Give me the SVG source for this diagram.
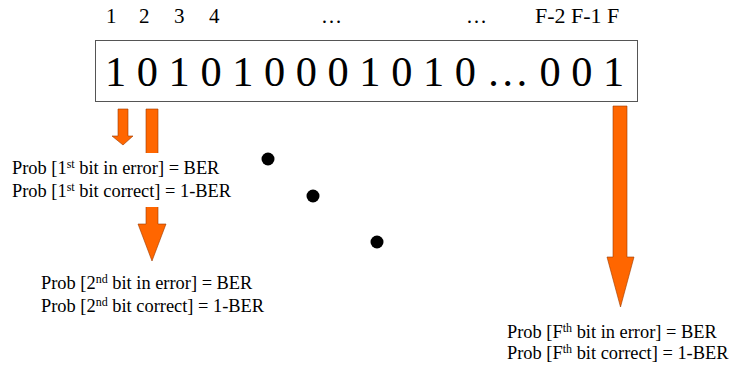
<svg xmlns="http://www.w3.org/2000/svg" width="733" height="366" viewBox="0 0 733 366">
<style>
.idx{font-size:21px}
.big{font-size:42.4px}
.p{font-size:18.4px}
.sup{font-size:12px}
.arr{fill:#FF6600;stroke:#9A3A00;stroke-width:0.6}
.dot{fill:#000}
</style>
<rect width="733" height="366" fill="#fff"/>
<g font-family="Liberation Serif, Times New Roman, serif" fill="#000">
<g id="indices">
<text class="idx" x="106" y="23">1</text>
<text class="idx" x="139" y="23">2</text>
<text class="idx" x="174" y="23">3</text>
<text class="idx" x="209" y="23">4</text>
<text class="idx" x="321" y="23">…</text>
<text class="idx" x="466" y="23">…</text>
<text x="535" y="23" font-size="22">F-2 F-1 F</text>
</g>
<g id="bits">
<rect x="95.5" y="40.5" width="542" height="61" fill="#fff" stroke="#555" stroke-width="1"/>
<text class="big" x="105" y="86">1 0 1 0 1 0 0 0 1 0 1 0 … 0 0 1</text>
</g>
<g id="connectors">
<polygon class="arr" points="118,109 128,109 128,136 133,136 123,145 112,136 118,136"/>
<polygon class="arr" points="146,109 158,109 158,224 166,224 152,261 138,224 146,224"/>
<polygon class="arr" points="613,106 627,106 627,257 634,257 620.5,307 607,257 613,257"/>
</g>
<g id="dots">
<circle class="dot" cx="268" cy="159" r="6.5"/>
<circle class="dot" cx="313" cy="196" r="6.5"/>
<circle class="dot" cx="377" cy="242" r="6.5"/>
</g>
<g id="prob1">
<rect x="10" y="153" width="230" height="54" fill="#fff"/>
<text class="p" x="12" y="174">Prob [1<tspan class="sup" dy="-6">st</tspan><tspan dy="6"> bit in error] = BER</tspan></text>
<text class="p" x="12" y="197">Prob [1<tspan class="sup" dy="-6">st</tspan><tspan dy="6"> bit correct] = 1-BER</tspan></text>
</g>
<g id="prob2">
<text class="p" x="41" y="289">Prob [2<tspan class="sup" dy="-6">nd</tspan><tspan dy="6"> bit in error] = BER</tspan></text>
<text class="p" x="41" y="312">Prob [2<tspan class="sup" dy="-6">nd</tspan><tspan dy="6"> bit correct] = 1-BER</tspan></text>
</g>
<g id="probF">
<text class="p" x="507" y="338">Prob [F<tspan class="sup" dy="-6">th</tspan><tspan dy="6"> bit in error] = BER</tspan></text>
<text class="p" x="507" y="359">Prob [F<tspan class="sup" dy="-6">th</tspan><tspan dy="6"> bit correct] = 1-BER</tspan></text>
</g>
</g>
</svg>
